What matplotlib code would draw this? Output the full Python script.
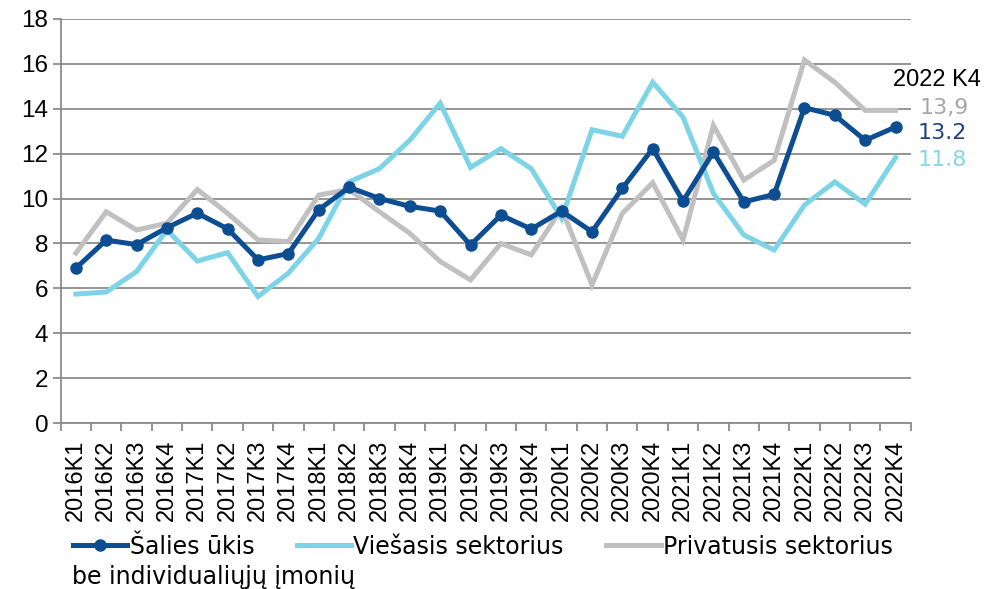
import matplotlib
matplotlib.use("Agg")
import matplotlib.pyplot as plt
from matplotlib.ticker import MultipleLocator, FixedLocator

QUARTERS = [f"{y}K{q}" for y in range(2016, 2023) for q in range(1, 5)]

SALIES_UKIS = [6.9, 8.15, 7.95, 8.7, 9.35, 8.65, 7.27, 7.55, 9.5, 10.5,
               10.0, 9.65, 9.44, 7.93, 9.26, 8.64, 9.44, 8.52, 10.45, 12.22,
               9.88, 12.07, 9.85, 10.18, 14.04, 13.7, 12.59, 13.18]
VIESASIS = [5.75, 5.84, 6.75, 8.6, 7.22, 7.59, 5.64, 6.68, 8.23, 10.74,
            11.33, 12.59, 14.24, 11.38, 12.22, 11.33, 9.12, 13.06, 12.77, 15.17,
            13.62, 10.23, 8.38, 7.71, 9.71, 10.74, 9.75, 11.82]
PRIVATUSIS = [7.57, 9.41, 8.6, 8.9, 10.4, 9.34, 8.16, 8.08, 10.15, 10.4,
              9.41, 8.45, 7.2, 6.38, 8.0, 7.49, 9.56, 6.16, 9.34, 10.7,
              8.16, 13.25, 10.82, 11.7, 16.16, 15.17, 13.92, 13.92]

LAST_LABELS = ["13.2", "11.8", "13,9"]

DARK_BLUE = "#0D4E93"
LIGHT_BLUE = "#7DD4E6"
GRAY = "#C0C0C0"
GRID = "#8C8C8C"

fig = plt.figure(figsize=(9.85, 5.89), dpi=100)
ax = fig.add_axes([0.0616, 0.2813, 0.863, 0.6870])

x = list(range(len(QUARTERS)))
ax.plot(x, PRIVATUSIS, color=GRAY, lw=3.6, solid_joinstyle="miter",
        label="Privatusis sektorius", zorder=3)
ax.plot(x, VIESASIS, color=LIGHT_BLUE, lw=3.6, solid_joinstyle="miter",
        label="Viešasis sektorius", zorder=3)
ax.plot(x, SALIES_UKIS, color=DARK_BLUE, lw=3.6, marker="o", markersize=8,
        label="Šalies ūkis", zorder=4)

ax.set_ylim(0, 18)
ax.set_xlim(-0.5, len(QUARTERS) - 0.5)
ax.yaxis.set_major_locator(MultipleLocator(2))
ax.grid(axis="y", color=GRID, lw=1.3)
ax.set_axisbelow(True)

for side in ["top", "right"]:
    ax.spines[side].set_visible(False)
for side in ["left", "bottom"]:
    ax.spines[side].set_color(GRID)
    ax.spines[side].set_linewidth(1.3)

ax.set_xticks(x)
ax.set_xticklabels(QUARTERS, rotation=90)
ax.xaxis.set_minor_locator(FixedLocator([i - 0.5 for i in range(len(QUARTERS) + 1)]))
ax.tick_params(axis="x", which="major", length=0, pad=12,
               labelsize=17, labelfontfamily="Liberation Sans")
ax.tick_params(axis="x", which="minor", length=6, width=1.3, color=GRID)
ax.tick_params(axis="y", length=6, width=1.3, color=GRID, pad=3,
               labelsize=17.5, labelfontfamily="Liberation Sans")

# labels for the last quarter
last = len(QUARTERS) - 1
ax.text(last - 0.1, 15.25, "2022 K4", fontsize=17, family="Liberation Sans",
        color="black", va="center", ha="left", clip_on=False)
ax.text(last + 0.78, PRIVATUSIS[-1] + 0.1, LAST_LABELS[2], fontsize=16,
        color="#A6A6A6", va="center", ha="left", clip_on=False)
ax.text(last + 0.72, SALIES_UKIS[-1] - 0.25, LAST_LABELS[0], fontsize=16,
        color="#1F3F86", va="center", ha="left", clip_on=False)
ax.text(last + 0.72, VIESASIS[-1] - 0.1, LAST_LABELS[1], fontsize=16,
        color="#86D5E8", va="center", ha="left", clip_on=False)

handles, labels = ax.get_legend_handles_labels()
order = [2, 1, 0]
fig.legend([handles[i] for i in order], [labels[i] for i in order],
           loc="center left", bbox_to_anchor=(0.074, 0.072), ncol=3,
           frameon=False, fontsize=17, handlelength=2.3, handletextpad=0.1,
           columnspacing=1.8, borderpad=0, borderaxespad=0)
fig.text(0.073, 0.02, "be individualiųjų įmonių", fontsize=17,
         va="center", ha="left")

fig.savefig("out.png", dpi=100)
